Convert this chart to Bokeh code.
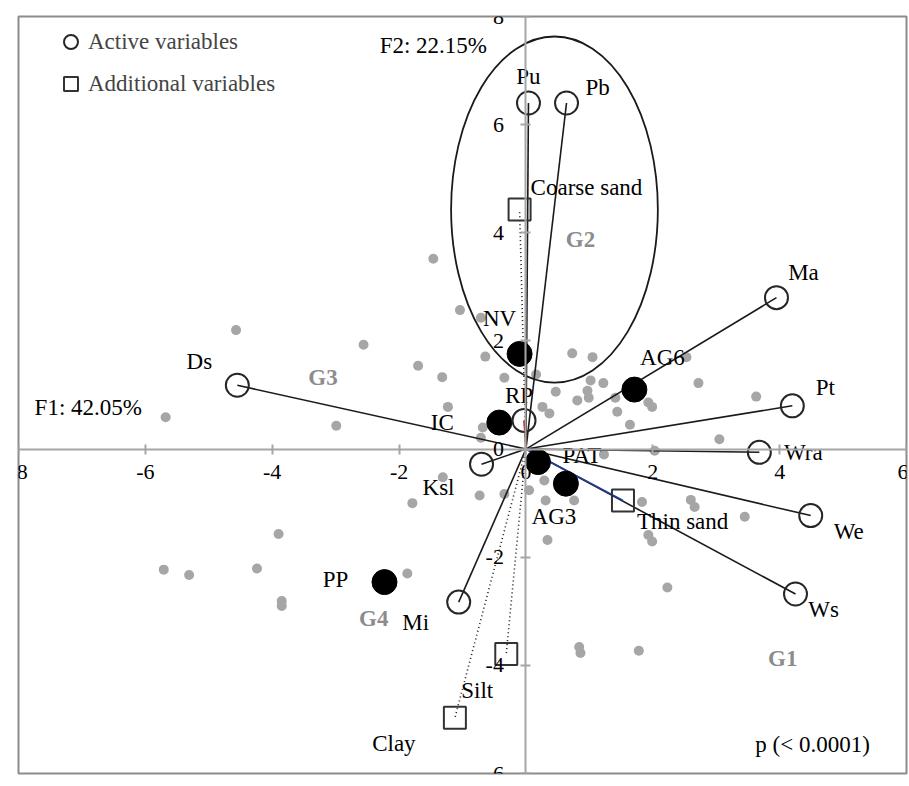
from bokeh.plotting import figure
from bokeh.models import (ColumnDataSource, Range1d, FixedTicker, Legend, LegendItem,
                          PrintfTickFormatter)
from bokeh.core.properties import value
from bokeh.embed import file_html
from bokeh.resources import INLINE

# ---------------- data ----------------
# active variables (open circles)
act_names = ["Pu", "Pb", "Ma", "Pt", "Wra", "We", "Ws", "Ds", "Ksl", "RP", "Mi"]
act_x = [0.04, 0.64, 3.95, 4.20, 3.68, 4.49, 4.25, -4.55, -0.70, -0.03, -1.06]
act_y = [6.40, 6.40, 2.80, 0.80, -0.06, -1.23, -2.68, 1.18, -0.28, 0.53, -2.83]

# groups / factors (filled black circles)
grp_names = ["NV", "IC", "AG6", "PAT", "AG3", "PP"]
grp_x = [-0.10, -0.42, 1.71, 0.19, 0.63, -2.23]
grp_y = [1.76, 0.49, 1.10, -0.24, -0.64, -2.46]

# additional variables (open squares)
add_names = ["Coarse sand", "Thin sand", "Silt", "Clay"]
add_x = [-0.10, 1.53, -0.31, -1.12]
add_y = [4.43, -0.95, -3.79, -4.97]

# observations (grey dots)
obs_x = [-1.46, -1.04, -0.71, -2.56, -0.64, -1.70, -1.32, -0.34, -1.23, -2.99,
         -0.68, -0.71, -4.57, -5.68, -3.90, -5.71, -5.31, -4.24, -3.85, -3.85,
         -1.87, -1.79, -1.31, -0.73, -0.34, 0.05, 0.29, 0.31, 0.76, 0.34,
         0.84, 0.86, 1.78, 1.83, 2.60, 2.66, 3.45, 1.93, 1.99, 2.23,
         0.73, 1.05, 2.53, 0.16, 1.02, 1.22, 2.72, 0.47, 0.97, 0.99,
         0.81, 1.41, 1.93, 1.99, 0.26, 0.37, 1.44, 1.64, 3.63, 3.05,
         2.03, 1.23]
obs_y = [3.52, 2.57, 2.43, 1.93, 1.71, 1.54, 1.33, 1.32, 0.78, 0.43,
         0.40, 0.21, 2.20, 0.59, -1.57, -2.23, -2.33, -2.21, -2.81, -2.90,
         -2.30, -1.00, -0.52, -0.86, -0.83, -0.76, -0.58, -0.95, -0.95, -1.68,
         -3.66, -3.77, -3.73, -0.98, -0.94, -1.07, -1.25, -1.59, -1.71, -2.56,
         1.77, 1.70, 1.70, 1.38, 1.27, 1.22, 1.22, 1.06, 1.08, 0.95,
         0.90, 0.95, 0.86, 0.78, 0.78, 0.66, 0.69, 0.45, 0.97, 0.18,
         -0.03, -0.10]

# cluster ellipse G2
ell_x, ell_y, ell_w, ell_h = 0.45, 4.43, 3.26, 6.40

x_ticks = [-8, -6, -4, -2, 0, 2, 4, 6]
y_ticks = [-6, -4, -2, 0, 2, 4, 6, 8]

group_labels = ["G1", "G2", "G3", "G4"]
group_lx = [4.05, 0.86, -3.20, -2.40]
group_ly = [-3.88, 3.88, 1.32, -3.14]

notes = ["F2: 22.15%", "F1: 42.05%", "p (< 0.0001)"]
notes_x = [-1.46, -6.90, 4.52]
notes_y = [7.46, 0.77, -5.47]

ORIGIN = 0.0

# ---------------- styling ----------------
FONT = "Liberation Serif"
FS = "23px"

p = figure(width=908, height=786, x_range=Range1d(-8, 6), y_range=Range1d(-6, 8),
           output_backend="svg", toolbar_location=None,
           min_border_left=18, min_border_right=2, min_border_top=16, min_border_bottom=13)
p.background_fill_color = "white"
p.border_fill_color = "white"
p.outline_line_color = "#8c8c8c"
p.outline_line_width = 2
p.xgrid.visible = False
p.ygrid.visible = False

for ax, ticks in ((p.xaxis[0], x_ticks), (p.yaxis[0], y_ticks)):
    ax.fixed_location = 0
    ax.ticker = FixedTicker(ticks=ticks)
    ax.formatter = PrintfTickFormatter(format="%d")
    ax.axis_line_color = "#a6a6a6"
    ax.axis_line_width = 2
    ax.major_tick_line_color = "#a6a6a6"
    ax.major_tick_line_width = 2
    ax.major_tick_in = 5
    ax.major_tick_out = 5
    ax.minor_tick_line_color = None
    ax.major_label_text_font = FONT
    ax.major_label_text_font_size = "22px"
    ax.major_label_text_color = "black"
p.xaxis[0].major_label_standoff = 11
p.yaxis[0].major_label_standoff = 17

# grey observation dots
p.scatter(obs_x, obs_y, size=10, color="#a6a6a6", line_color=None)

# vectors from origin
n_act = len(act_x)
act_colors = ["#1a1a1a"] * n_act
act_colors[act_names.index("RP")] = "#c00000"
p.segment(x0=[ORIGIN] * n_act, y0=[ORIGIN] * n_act, x1=act_x, y1=act_y,
          line_color=act_colors, line_width=1.6)

dotted = [i for i, n in enumerate(add_names) if n != "Thin sand"]
p.segment(x0=[ORIGIN] * len(dotted), y0=[ORIGIN] * len(dotted),
          x1=[add_x[i] for i in dotted], y1=[add_y[i] for i in dotted],
          line_color="#1a1a1a", line_width=1.6, line_dash="1 3")
ts = add_names.index("Thin sand")
p.segment(x0=[ORIGIN], y0=[ORIGIN], x1=[add_x[ts]], y1=[add_y[ts]],
          line_color="#1f3c99", line_width=1.6)

# ellipse around G2
p.ellipse(x=[ell_x], y=[ell_y], width=[ell_w], height=[ell_h],
          fill_color=None, line_color="#1a1a1a", line_width=1.8)

# markers
p.scatter(grp_x, grp_y, size=25, color="black")
r_act = p.scatter(act_x, act_y, size=23, marker="circle", fill_color=None,
                  line_color="#262626", line_width=2)
r_add = p.scatter(add_x, add_y, size=22, marker="square", fill_color=None,
                  line_color="#333333", line_width=2)

# point labels (pixel offsets from their point)
act_dx = [0, 31, 27, 33, 44, 38, 28, -38, -43, -5, -43]
act_dy = [-27, -16, -25, -18, 0, 16, 16, -24, 23, -25, 20]
grp_dx = [-20, -57, 28, 44, -12, -49]
grp_dy = [-35, 0, -32, -7, 33, -3]

lab_src = ColumnDataSource(dict(
    x=act_x + grp_x + add_x[2:],
    y=act_y + grp_y + add_y[2:],
    t=act_names + grp_names + add_names[2:],
    dx=act_dx + grp_dx + [-29, -61],
    dy=act_dy + grp_dy + [36, 26],
))
p.text(x="x", y="y", text="t", x_offset="dx", y_offset="dy", source=lab_src,
       text_font=value(FONT), text_font_size=FS, text_align="center",
       text_baseline="middle", text_color="black")

left_src = ColumnDataSource(dict(x=add_x[:2], y=add_y[:2], t=add_names[:2],
                                 dx=[11, 14], dy=[-22, 21]))
p.text(x="x", y="y", text="t", x_offset="dx", y_offset="dy", source=left_src,
       text_font=value(FONT), text_font_size=FS, text_align="left",
       text_baseline="middle", text_color="black")

# group labels
p.text(x=group_lx, y=group_ly, text=group_labels, text_font=value(FONT),
       text_font_size=FS, text_font_style="bold", text_color="#8c8c8c",
       text_align="center", text_baseline="middle")

# notes
p.text(x=notes_x, y=notes_y, text=notes, text_font=value(FONT),
       text_font_size=FS, text_color="black", text_align="center",
       text_baseline="middle")

legend = Legend(items=[LegendItem(label="Active variables", renderers=[r_act]),
                       LegendItem(label="Additional variables", renderers=[r_add])],
                location=(35, 672), glyph_width=35, glyph_height=35, spacing=7,
                padding=0, margin=0, label_standoff=0,
                label_text_font=FONT, label_text_font_size=FS,
                border_line_alpha=0, background_fill_alpha=0)
p.add_layout(legend)

open("out.html", "w").write(file_html(p, INLINE))
